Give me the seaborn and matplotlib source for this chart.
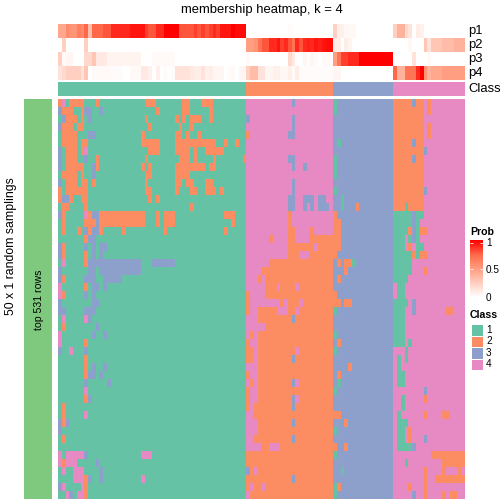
import numpy as np
import matplotlib
matplotlib.use('Agg')
import matplotlib.pyplot as plt
from matplotlib.colors import ListedColormap, LinearSegmentedColormap
import seaborn as sns

plt.rcParams['font.family'] = ['Liberation Sans', 'DejaVu Sans']

class_colors = ['#66C2A5', '#FC8D62', '#8DA0CB', '#E78AC3']
class_labels = ['1', '2', '3', '4']
prob_ticks = ['1', '0.5', '0']
row_names = ['p1', 'p2', 'p3', 'p4', 'Class']
block_sizes = [50, 23, 16, 19]

# membership per column, one run of values per stretch of the top annotation
p1_a = [.45, .45, .6, .55, .55, .65, .6, .75, .35, .75, .75, .75, .8, .8, .9, .9, .9, .9, .9, .95, .95, .95, .95,
        .85, .8, .8, .9, .9, 1, 1, 1, 1, .8, .8, .8, .8, .85, .8, .85, .8, .85, .9, .85, .95, .95, .95, 1, .97, .97, .97]
p1_b = [0] * 11 + [.02, .01] + [0] * 10
p1_c = [.25, .08, .08, .04, .04, .04] + [0] * 10
p1_d = [.25, .4, .4, .2, .15, 0, .1, .07] + [0] * 11

p2_a = [0, .25, 0, 0, 0, 0, 0, .25] + [0] * 42
p2_b = [.5, .5, .55, .7, .8, .8, .9, .9, .95, .85, .9, .8, .7, .9, .8, .9, .92, .9, .95, .92, .95, .97, .97]
p2_c = [.1, .1, 0, .1, .06] + [0] * 11
p2_d = [0, 0, 0, 0, .04, 0, 0, 0, .3, .15, .3, .3, .3, .35, .35, .35, .4, .4, .4]

p3_a = [.25, .03, .05, .05, 0, 0, 0, .2, .2, .3, .12, .12, .12, .06, .06, .06, .06, .06, .06, .06, .06, .06,
        0, 0, 0, .03, .03, .03, .03, .03, .03] + [0] * 19
p3_b = [.03, 0, 0, 0, 0, 0, 0, 0, 0, 0, 0, .2, .12, 0, 0, .05, .01, .05, .02, 0, .03, .03, .03]
p3_c = [.5, .7, .85, .85, .9, .9, .9, 1, 1, 1, 1, 1, 1, 1, 1, 1]
p3_d = [0, 0, 0, 0, 0, .15, 0, 0, 0, .03] + [0] * 9

p4_a = [.15, .2, .25, .25, .25, .25, .15, .3, 0, .03, .03, .03, .03, .03, .02, .02, .02, 0, 0, .03, .03, .03,
        .12, .12, .08, 0, .08, 0, .03, 0, .02, .15, .15, .15, .15, .12, .1, .1, .15, .08, .1, .05, .05, .05,
        0, .02, .03, 0, .05, .05]
p4_b = [.25, .35, .35, .15, .15, .05, .05, .08, .08, .04, .04, .08, .03, .1, .02, .02, .02, .02, .02, .02, .02, .02, .02]
p4_c = [.05, .05] + [0] * 14
p4_d = [.75, .4, .4, .7, .7, .7, .9, 1, .55, .4, .45, .45, .45, .5, .5, .5, .5, .5, .5]

# the samplings: for each row, the cells that differ from the block's main class ("from-to:class")
rows_a = [
    '0:2 1:4 3-6:2 10:2 23-25:2 33-34:2 38-40:2',
    '0:3 1-3:2 6:2 7-8:3 11:3 26:2 33-34:2 40:2',
    '1:3 2-4:2 6:2 8:3 23:2 31:2 33:2 35-37:2 40:2',
    '0:3 1-3:2 5-6:2 24:2 32:2 35:2',
    '1-4:2 8-9:3 22:2 31-32:2 34:2 37:2',
    '1-4:2 6-7:2 22-26:2 31-41:2 44:2 47:2',
    '0:3 2-4:2 6:2 7:4 24-26:2 31-34:2 36:2 39-43:2',
    '0:3 2-4:2 7:3 10:2 23:2 32-34:2 36:2 41:2 49:2',
    '0:3 2-6:2 9:3 10:2 22:2 24:2 31-38:2 40-41:2',
    '1-4:2 6:2 9:3 23-24:2 31-34:2',
    '0:3 2-4:2 6-7:2 9:2 23:2 31-32:2 34-35:2 39-40:2',
    '0:2 2-7:2 23-24:2 31:2 35-36:2 39-41:2 43:2',
    '0:2 1-2:3 3:2 6-7:2 24:2 26:2',
    '1-2:2 7:2 35:2',
    '0:3 1:2 7:4 8:2 9-10:3 11-22:2 26:2 28-30:2 44-46:2',
    '1:2 7-9:2 10:3 11-22:2 26:2 28-30:2 46:2',
    '1:2 5:2 7:3 8:2 9-10:3 11:2 17:2 28:2 44:2',
    '7:2 8-9:3',
    '0:3 1:2 7:3 9:3 11-12:3',
    '0:3 1:2 7:2 9:3 11:3',
    '1:4 7:2 8-21:3 25-30:3',
    '0:3 8-9:3 11-21:3',
    '0:3 1:2 7-9:3 12-16:3',
    '0:4 7:2 9-10:3 12:3',
    '0:4 1:2 7:3 9:3',
    '0:3 9-10:3',
    '0-1:3 7-9:3',
    '1:4 7:4 8:3',
    '1:2 10:3',
    '0:4 9:3 12:3',
    '0:4 7:2',
    '0:3 3:4 7:3',
    '7:2',
    '7:2 9:3 12:3',
    '7:2 8-9:3 11:3',
    '7:3 13:3',
    '7:4',
    '7:2 8:3',
    '1:2',
    '1:2 7:4',
    '0:3 1:2 2:3',
    '0:3',
    '1:2',
    '',
    '0:4 2-6:4 7:3 22-24:4',
    '0:4 1:2 2-4:4 10:3',
    '1:4 4-6:4 11:3',
    '4-6:4 7:2 8:3 11:3 22:4',
    '0:3 1:4 6:4 7:2',
    '2:4 3:3 5-6:4 7:2',
]
rows_b = [
    '12:3',
    '',
    '0:3 12:3',
    '12:3',
    '0:2 11-12:3',
    '',
    '',
    '11-12:3',
    '12:3 15:3',
    '',
    '12:3',
    '12:3',
    '11-12:3 15-17:3 19-20:3',
    '11-12:3 15:3 17:3 19-21:3',
    '11:2',
    '11:2',
    '11-12:2 17:2',
    '6:2 11-12:2 17-22:2',
    '11-17:2 19-22:2',
    '11-13:2 17-22:2',
    '6-22:2',
    '4-22:2',
    '3:2 5-22:2',
    '5-7:2 9-12:2 14-22:2',
    '0:2 5-22:2',
    '0:2 9:2 11-13:2 15-22:2',
    '0:2 3-7:2 11-12:2 14-22:2',
    '3-11:2 13-22:2 12:3',
    '5-22:2',
    '1:2 3-22:2',
    '0:2 3-22:2',
    '0-1:2 3-12:2 14-22:2',
    '0-1:2 3-11:2 12:3 13-22:2',
    '3-22:2',
    '0:2 3-22:2',
    '1:2 3-11:2 12:3 14-22:2',
    '0:2 3-22:2',
    '0:2 3-11:2 12:3 14-22:2',
    '0:2 2-11:2 12:3 13-22:2',
    '2-22:2',
    '3-11:2 12:3 13-22:2',
    '3-22:2',
    '2-11:2 12:3 13-22:2',
    '4-5:2 9-22:2',
    '0-22:2',
    '0-22:2',
    '0:3 1:2 3-22:2',
    '0-11:2 12:3 13-22:2',
    '0:2 2-3:2 5-22:2',
    '1-22:2',
]
rows_c = [
    '0:1', '0:1', '', '', '', '1:1', '', '0:1', '0:1', '0:1',
    '', '0:1', '2:1', '2:1 6:2', '0:2', '0-1:2', '0-1:2', '0-1:2', '0-1:2', '0:2',
    '1:2 3-4:2 5:1', '3:2', '1:2', '', '0:2', '0-1:2 3-4:2', '0:1', '', '', '0:1',
    '1:2', '0:1', '', '4:2', '1:2', '1:1', '0:1', '', '', '0-1:2',
    '3:2', '0:1', '', '0:2 3:2', '0:1', '', '2:1', '', '0:1 1:2', '0:1',
]
rows_d = [
    '0-4:2 5:3 6-7:2 9:2',
    '0-7:2 9:2',
    '0-7:2',
    '0-7:2 9:2',
    '0-7:2 9:2',
    '0-4:2 5:3 6-7:2',
    '0-7:2 8:3',
    '0-4:2 5:3 6-7:2',
    '0-7:2',
    '0-7:2',
    '0-7:2',
    '0-7:2 8:3',
    '0-7:2',
    '0-2:2 3:1 4-7:2',
    '0-4:1 5:3 6-7:1',
    '0-4:1 5:3 6:1',
    '0-3:1 4:2 5:3 6:1 7-8:2',
    '0-2:1 4:1 5:3 6:1',
    '0-2:1 4:2 6-7:1',
    '0-4:1 5:2 6:1 7-8:2',
    '0-4:1',
    '0-4:1 8:2',
    '0-3:1',
    '1-2:1',
    '1-2:1',
    '0-3:1 5:3',
    '0-2:1 5:3 14-15:2',
    '0-2:1',
    '0-2:1',
    '0-2:1',
    '0-2:1 4:1',
    '3:1',
    '1:1 3:1',
    '1:1',
    '1-2:1',
    '1-2:1',
    '8:3',
    '2:1 8:2',
    '2:1',
    '1:1 8:2 13-14:2',
    '1-3:1',
    '1-2:1 4:2',
    '1-2:1 4:2 8:3',
    '1-4:1 5:3',
    '10-18:2',
    '3:1 13-18:2',
    '8:2 13:2 17:2',
    '8:2 11-18:2',
    '4:2 8:2',
    '5:3 8:2 13:2 15-16:2',
]


def expand(rows, width, base):
    out = np.full((len(rows), width), base)
    for i, row in enumerate(rows):
        for part in row.split():
            span, val = part.split(':')
            lo, _, hi = span.partition('-')
            out[i, int(lo):int(hi or lo) + 1] = int(val)
    return out


def place(x0, y0, x1, y1):
    return fig.add_axes([x0 / 504, 1 - y1 / 504, (x1 - x0) / 504, (y1 - y0) / 504])


def label(x, y, s, **kw):
    kw.setdefault('fontsize', 10)
    kw.setdefault('va', 'center')
    fig.text(x / 504, 1 - y / 504, s, **kw)


matrix = np.hstack([expand(rows_a, block_sizes[0], 1), expand(rows_b, block_sizes[1], 4),
                    expand(rows_c, block_sizes[2], 3), expand(rows_d, block_sizes[3], 4)])
probs = np.array([p1_a + p1_b + p1_c + p1_d, p2_a + p2_b + p2_c + p2_d,
                  p3_a + p3_b + p3_c + p3_d, p4_a + p4_b + p4_c + p4_d])
class_row = np.repeat([1, 2, 3, 4], block_sizes).reshape(1, -1)

prob_cmap = LinearSegmentedColormap.from_list(
    'prob', [(0, '#FFFFFF'), (.25, '#FFD0C1'), (.5, '#FF9E81'), (.75, '#FF6A4B'), (1, '#FF0000')])
class_cmap = ListedColormap(class_colors)
plain = dict(cbar=False, xticklabels=False, yticklabels=False)

fig = plt.figure(figsize=(7, 7), dpi=72)

sns.heatmap(probs, ax=place(58, 24, 465, 80), cmap=prob_cmap, vmin=0, vmax=1, **plain)
sns.heatmap(class_row, ax=place(58, 82, 465, 96), cmap=class_cmap, vmin=.5, vmax=4.5, **plain)
sns.heatmap(matrix, ax=place(58, 99, 465, 499), cmap=class_cmap, vmin=.5, vmax=4.5, **plain)
sns.heatmap(np.zeros((1, 1)), ax=place(24, 99, 52, 499), cmap=ListedColormap(['#7FC97F']), **plain)

label(262, 10, 'membership heatmap, k = 4', ha='center', fontsize=13)
for i, name in enumerate(row_names):
    label(468, 31 + 14 * i if i < 4 else 89, name, fontsize=13)
label(11, 246.5, '50 x 1 random samplings', rotation=90, ha='center', fontsize=12.3)
label(39, 299.5, 'top 531 rows', rotation=90, ha='center', fontsize=10.5)

# Prob legend
ax_prob = place(470, 240, 483, 298)
sns.heatmap(np.linspace(1, 0, 58).reshape(-1, 1), ax=ax_prob, cmap=prob_cmap, vmin=0, vmax=1, **plain)
for frac in [.05, .5]:
    ax_prob.hlines(frac * 58, 0, .2, color='white', lw=.8)
    ax_prob.hlines(frac * 58, .8, 1, color='white', lw=.8)
label(470, 232, 'Prob', fontweight='bold', fontsize=10.5)
for y, s in zip([243, 270, 298], prob_ticks):
    label(486, y, s)

# Class legend
label(470, 315, 'Class', fontweight='bold', fontsize=10.5)
sns.heatmap(np.array([1, 2, 3, 4]).reshape(-1, 1), ax=place(470.5, 324, 482.5, 370), cmap=class_cmap,
            vmin=.5, vmax=4.5, linewidths=1, linecolor='white', **plain)
for i, s in enumerate(class_labels):
    label(486, 330 + 11.4 * i, s)

fig.savefig('out.png', dpi=72)
